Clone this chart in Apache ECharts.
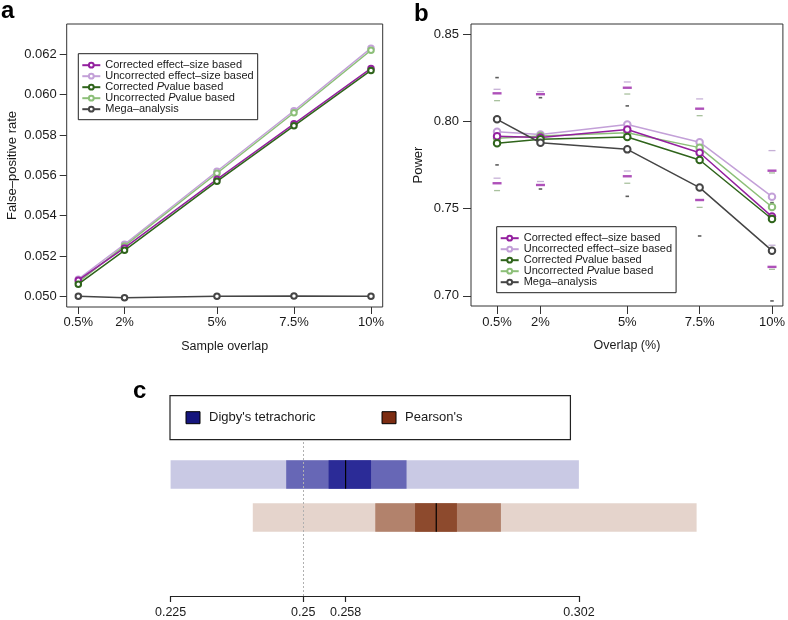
<!DOCTYPE html>
<html><head><meta charset="utf-8">
<script src="https://cdn.jsdelivr.net/npm/echarts@6/dist/echarts.min.js"></script>
<style>html,body{margin:0;padding:0;background:#fff}#chart{width:788px;height:620px}</style>
</head><body><div id="chart"></div>
<script>
// ---------- data ----------
const overlapX = [0.5, 2, 5, 7.5, 10];
const seriesNames = ['Corrected effect–size based', 'Uncorrected effect–size based', 'Corrected Pvalue based', 'Uncorrected Pvalue based', 'Mega–analysis'];
const seriesColors = ['#94209f', '#c3a0d8', '#2f641b', '#8cbf78', '#454545'];

// panel a: false-positive rate
const fprCorrES = [0.05080, 0.05240, 0.05580, 0.05855, 0.06130];
const fprUncES  = [0.05085, 0.05258, 0.05620, 0.05920, 0.06230];
const fprCorrP  = [0.05060, 0.05228, 0.05570, 0.05845, 0.06120];
const fprUncP   = [0.05070, 0.05250, 0.05610, 0.05910, 0.06220];
const fprMega   = [0.05000, 0.04993, 0.05000, 0.05002, 0.05000];

// panel b: power
const powCorrES = [0.7914, 0.7907, 0.7953, 0.7820, 0.7454];
const powUncES  = [0.7940, 0.7924, 0.7981, 0.7880, 0.7568];
const powCorrP  = [0.7874, 0.7897, 0.7910, 0.7778, 0.7440];
const powUncP   = [0.7903, 0.7916, 0.7934, 0.7849, 0.7509];
const powMega   = [0.8011, 0.7877, 0.7839, 0.7620, 0.7259];

// panel b: interval ends (short dashes); null = not visible
const ciCorrESUp = [0.8160, 0.8155, 0.8192, 0.8072, 0.7717];
const ciCorrESLo = [0.7645, 0.7635, 0.7685, 0.7549, 0.7166];
const ciUncESUp  = [0.8183, 0.8170, 0.8225, 0.8128, 0.7832];
const ciUncESLo  = [0.7674, 0.7655, 0.7715, null,   0.7290];
const ciCorrPUp  = [0.8118, null,   0.8156, 0.8032, 0.7704];
const ciCorrPLo  = [0.7603, null,   0.7645, 0.7507, 0.7152];
const ciMegaUp   = [0.8250, 0.8135, 0.8088, null,   0.7534];
const ciMegaLo   = [0.7750, 0.7612, 0.7570, 0.7343, 0.6971];

const fprTicks = [0.050, 0.052, 0.054, 0.056, 0.058, 0.060, 0.062];
const powTicks = [0.70, 0.75, 0.80, 0.85];

// panel c
const corrMethods = ["Digby's tetrachoric", "Pearson's"];
const outerLo = [0.2250, 0.2405];
const outerHi = [0.3020, 0.3242];
const midLo   = [0.2468, 0.2636];
const midHi   = [0.2695, 0.2873];
const innerLo = [0.2548, 0.2711];
const innerHi = [0.2628, 0.2790];
const medians = [0.2580, 0.2751];
const trueValue = 0.25;
const cTicks = [0.225, 0.25, 0.258, 0.302];
const cTickLabels = ['0.225', '0.25', '0.258', '0.302'];

// ---------- styling ----------
const FONT = '"Liberation Sans", Arial, Helvetica, sans-serif';
const TXT = '#1a1a1a';
const cFill = [
  ['#c9c9e4', '#6767b6', '#2b2b97'],
  ['#e5d4cc', '#b2826c', '#8d4a2d']
];
const cLegendColor = ['#15157d', '#7c2c12'];

const chart = echarts.init(document.getElementById('chart'), null, {renderer: 'canvas'});

function lineSeries(name, color, xs, ys, xi, yi, z, sz) {
  return {
    type: 'line', name, xAxisIndex: xi, yAxisIndex: yi,
    data: xs.map((x, i) => [x, ys[i]]),
    symbol: 'emptyCircle', symbolSize: sz,
    lineStyle: {color, width: 1.5},
    itemStyle: {color, borderColor: color, borderWidth: 1.3},
    z, animation: false, silent: true
  };
}
function dashSeries(name, color, up, lo, size, z) {
  const pts = [];
  overlapX.forEach((x, i) => {
    if (up[i] != null) pts.push([x, up[i]]);
    if (lo[i] != null) pts.push([x, lo[i]]);
  });
  return {
    type: 'scatter', name, xAxisIndex: 1, yAxisIndex: 1, data: pts,
    symbol: 'rect', symbolSize: size, itemStyle: {color},
    z, animation: false, silent: true
  };
}

const fprSets = [fprCorrES, fprUncES, fprCorrP, fprUncP, fprMega];
const powSets = [powCorrES, powUncES, powCorrP, powUncP, powMega];
const series = [];
const drawOrder = [1, 3, 0, 2, 4];
drawOrder.forEach((k, j) => series.push(lineSeries(seriesNames[k], seriesColors[k], overlapX, fprSets[k], 0, 0, 3 + j, 5.5)));
drawOrder.forEach((k, j) => series.push(lineSeries(seriesNames[k], seriesColors[k], overlapX, powSets[k], 1, 1, 3 + j, 6.5)));
series.push(dashSeries('ci-ues', '#b89ccc', ciUncESUp, ciUncESLo, [7, 1.3], 2));
series.push(dashSeries('ci-cp', '#93b186', ciCorrPUp, ciCorrPLo, [6, 1.3], 2));
series.push(dashSeries('ci-ces', '#9a24a8', ciCorrESUp, ciCorrESLo, [9, 2.4], 2));
series.push(dashSeries('ci-mega', '#333333', ciMegaUp, ciMegaLo, [3.5, 1.6], 2));

// panel c bars
corrMethods.forEach((m, r) => {
  const items = [
    [outerLo[r], outerHi[r], r, 0],
    [midLo[r], midHi[r], r, 1],
    [innerLo[r], innerHi[r], r, 2],
    [medians[r], medians[r], r, 3]
  ];
  series.push({
    type: 'custom', name: m, xAxisIndex: 2, yAxisIndex: 2,
    itemStyle: {color: cLegendColor[r]},
    data: items, animation: false, silent: true,
    renderItem: (params, api) => {
      const lo = api.value(0), hi = api.value(1), row = api.value(2), lev = api.value(3);
      const p0 = api.coord([lo, row]);
      const p1 = api.coord([hi, row]);
      const h = api.size([0, 1])[1] * 0.66;
      if (lev === 3) {
        return {type: 'line', shape: {x1: p0[0], y1: p0[1] - h / 2, x2: p0[0], y2: p0[1] + h / 2},
                style: {stroke: '#000', lineWidth: 1.2}, z2: 10};
      }
      return {type: 'rect', shape: {x: p0[0], y: p0[1] - h / 2, width: p1[0] - p0[0], height: h},
              style: {fill: cFill[row][lev]}, z2: lev};
    }
  });
});
// panel c reference line
series.push({
  type: 'line', name: 'ref', xAxisIndex: 3, yAxisIndex: 3, data: [],
  silent: true, animation: false, z: 10,
  markLine: {symbol: 'none', silent: true, animation: false, label: {show: false},
             lineStyle: {color: '#b0b0b0', type: [2, 2], width: 1},
             data: [{xAxis: trueValue}]}
});

const legendFormatter = n => n.replace(/P(?=value)/, '{i|P}');
const legendText = {fontSize: 11, lineHeight: 11, color: TXT, fontFamily: FONT,
  rich: {i: {fontStyle: 'italic', fontSize: 11, lineHeight: 11, color: TXT, fontFamily: FONT}}};

const axisLabelStyle = (fs, margin) => ({color: TXT, fontSize: fs, fontFamily: FONT, margin});

const option = {
  animation: false,
  textStyle: {fontFamily: FONT},
  grid: [
    {left: 66.7, top: 24, width: 316, height: 283, show: true, borderColor: '#333', borderWidth: 1, backgroundColor: 'transparent'},
    {left: 471, top: 24, width: 315, height: 282, show: true, borderColor: '#333', borderWidth: 1, backgroundColor: 'transparent'},
    {left: 170.6, top: 453, width: 526, height: 86, show: false},
    {left: 170.6, top: 440, width: 408.4, height: 156, show: false}
  ],
  xAxis: [
    {type: 'value', gridIndex: 0, min: 0.123, max: 10.38,
     axisLine: {show: false, onZero: false}, splitLine: {show: false},
     axisTick: {customValues: overlapX, length: 7, lineStyle: {color: '#333'}},
     axisLabel: Object.assign(axisLabelStyle(13, 9), {customValues: overlapX, formatter: v => v + '%'}),
     name: 'Sample overlap', nameLocation: 'middle', nameGap: 33,
     nameTextStyle: {fontSize: 12.5, color: TXT, fontFamily: FONT}},
    {type: 'value', gridIndex: 1, min: -0.4, max: 10.377,
     axisLine: {show: false, onZero: false}, splitLine: {show: false},
     axisTick: {customValues: overlapX, length: 8, lineStyle: {color: '#333'}},
     axisLabel: Object.assign(axisLabelStyle(13, 10), {customValues: overlapX, formatter: v => v + '%'}),
     name: 'Overlap (%)', nameLocation: 'middle', nameGap: 33,
     nameTextStyle: {fontSize: 12.5, color: TXT, fontFamily: FONT}},
    {type: 'value', gridIndex: 2, min: 0.225, max: 0.3242, show: false},
    {type: 'value', gridIndex: 3, min: 0.225, max: 0.302,
     axisLine: {show: true, onZero: false, lineStyle: {color: '#222', width: 1.2}}, splitLine: {show: false},
     axisTick: {customValues: cTicks, length: 6, lineStyle: {color: '#222', width: 1.2}},
     axisLabel: Object.assign(axisLabelStyle(12.5, 10), {customValues: cTicks,
       formatter: v => cTickLabels[cTicks.findIndex(t => Math.abs(t - v) < 1e-9)] || ''})}
  ],
  yAxis: [
    {type: 'value', gridIndex: 0, min: 0.04947, max: 0.0635,
     axisLine: {show: false, onZero: false}, splitLine: {show: false},
     axisTick: {customValues: fprTicks, length: 7, lineStyle: {color: '#333'}},
     axisLabel: Object.assign(axisLabelStyle(13, 10), {customValues: fprTicks, formatter: v => v.toFixed(3)}),
     name: 'False–positive rate', nameLocation: 'middle', nameGap: 48,
     nameTextStyle: {fontSize: 13, color: TXT, fontFamily: FONT}},
    {type: 'value', gridIndex: 1, min: 0.6942, max: 0.8557,
     axisLine: {show: false, onZero: false}, splitLine: {show: false},
     axisTick: {customValues: powTicks, length: 8, lineStyle: {color: '#333'}},
     axisLabel: Object.assign(axisLabelStyle(13, 12), {customValues: powTicks, formatter: v => v.toFixed(2)}),
     name: 'Power', nameLocation: 'middle', nameGap: 46,
     nameTextStyle: {fontSize: 13, color: TXT, fontFamily: FONT}},
    {type: 'category', gridIndex: 2, data: corrMethods, inverse: true, show: false},
    {type: 'value', gridIndex: 3, min: 0, max: 1, show: false}
  ],
  legend: [
    {data: seriesNames, orient: 'vertical', left: 78.3, top: 53.7, padding: [6, 4, 5, 3],
     itemWidth: 18, itemHeight: 6, itemGap: 0, borderColor: '#222', borderWidth: 1,
     formatter: legendFormatter, textStyle: legendText, selectedMode: false},
    {data: seriesNames, orient: 'vertical', left: 496.7, top: 226.7, padding: [6, 4, 5, 3],
     itemWidth: 18, itemHeight: 6, itemGap: 0, borderColor: '#222', borderWidth: 1,
     formatter: legendFormatter, textStyle: legendText, selectedMode: false},
    {data: corrMethods.map((n, r) => ({name: n, icon: 'rect', itemStyle: {color: cLegendColor[r], borderColor: '#000', borderWidth: 1}})),
     orient: 'horizontal', left: 170, top: 395.7, padding: [15, 108, 15, 15.5],
     itemWidth: 14, itemHeight: 12, itemGap: 66, borderColor: '#222', borderWidth: 1.2,
     textStyle: {fontSize: 13, lineHeight: 14, color: TXT, fontFamily: FONT, padding: [0, 0, 0, 4]},
     selectedMode: false}
  ],
  graphic: [
    {type: 'text', left: 1, top: -1, style: {text: 'a', font: 'bold 24px "Liberation Sans", Arial, sans-serif', fill: '#000'}},
    {type: 'text', left: 414, top: 2, style: {text: 'b', font: 'bold 24px "Liberation Sans", Arial, sans-serif', fill: '#000'}},
    {type: 'text', left: 133, top: 379, style: {text: 'c', font: 'bold 24px "Liberation Sans", Arial, sans-serif', fill: '#000'}}
  ],
  series
};
chart.setOption(option);
</script>
</body></html>
